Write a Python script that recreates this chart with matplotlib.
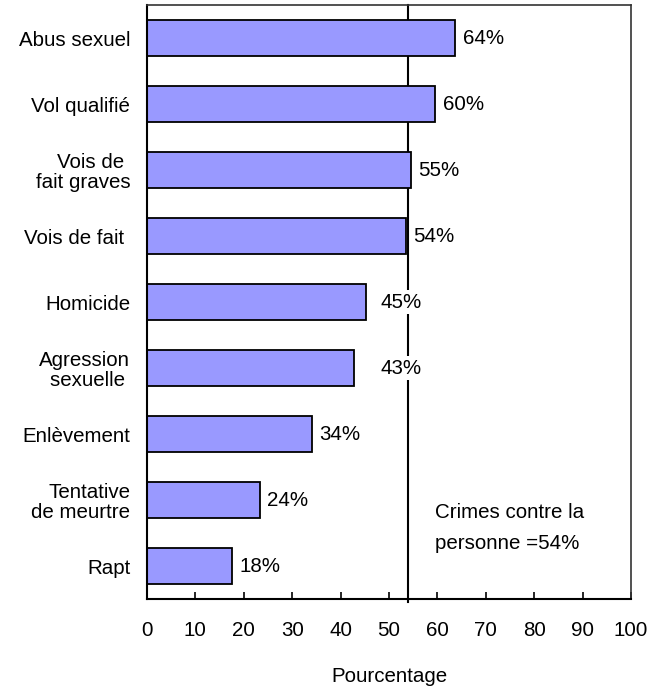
import matplotlib
matplotlib.use("Agg")
import matplotlib.pyplot as plt

plt.rcParams['font.family'] = ['Liberation Sans', 'DejaVu Sans']

categories = ["Abus sexuel", "Vol qualifié", "Vois de \nfait graves", "Vois de fait ",
              "Homicide", "Agression\nsexuelle ", "Enlèvement", "Tentative\nde meurtre", "Rapt"]
values = [63.7, 59.6, 54.6, 53.5, 45.2, 42.8, 34.1, 23.3, 17.6]
labels = ["64%", "60%", "55%", "54%", "45%", "43%", "34%", "24%", "18%"]
reference_value = 54
reference_text = "Crimes contre la\npersonne =54%"
xticks = [0, 10, 20, 30, 40, 50, 60, 70, 80, 90, 100]

FS = 14.8

fig = plt.figure(figsize=(6.62, 6.87), dpi=100)
ax = fig.add_axes([147/662, 1-599/687, 484/662, 594/687])

ypos = list(range(len(categories)))
ax.barh(ypos, values, height=0.56, color='#9999FF', edgecolor='black', linewidth=1.3, zorder=2)
ax.set_ylim(len(categories)-0.5, -0.5)
ax.set_xlim(0, 100)

ax.axvline(reference_value, color='black', lw=1.5, zorder=1, ymin=-0.005, clip_on=False)

for i, (v, lab) in enumerate(zip(values, labels)):
    if lab in ("45%", "43%"):
        x = 48.2
    else:
        x = v + 1.5
    ax.text(x, i, lab, ha='left', va='center', fontsize=FS, zorder=3,
            bbox=dict(facecolor='white', edgecolor='none', pad=1.5))

ax.text(59.5, 7.42, reference_text, ha='left', va='center', fontsize=FS, linespacing=1.8)

ax.set_yticks(ypos)
ax.set_yticklabels(categories, fontsize=FS, multialignment='right', linespacing=1.05)
ax.tick_params(axis='y', length=0, pad=12)
ax.set_xticks(xticks)
ax.set_xticklabels([str(t) for t in xticks], fontsize=FS)
ax.tick_params(axis='x', direction='in', length=5, width=1.2, pad=16)

for s in ('left', 'bottom'):
    ax.spines[s].set_linewidth(1.5)
    ax.spines[s].set_color('black')
for s in ('top', 'right'):
    ax.spines[s].set_linewidth(1.2)
    ax.spines[s].set_color('#333333')

fig.text(389/662, 1-682/687, "Pourcentage", ha='center', va='baseline', fontsize=FS)

fig.savefig("out.png", dpi=100)
